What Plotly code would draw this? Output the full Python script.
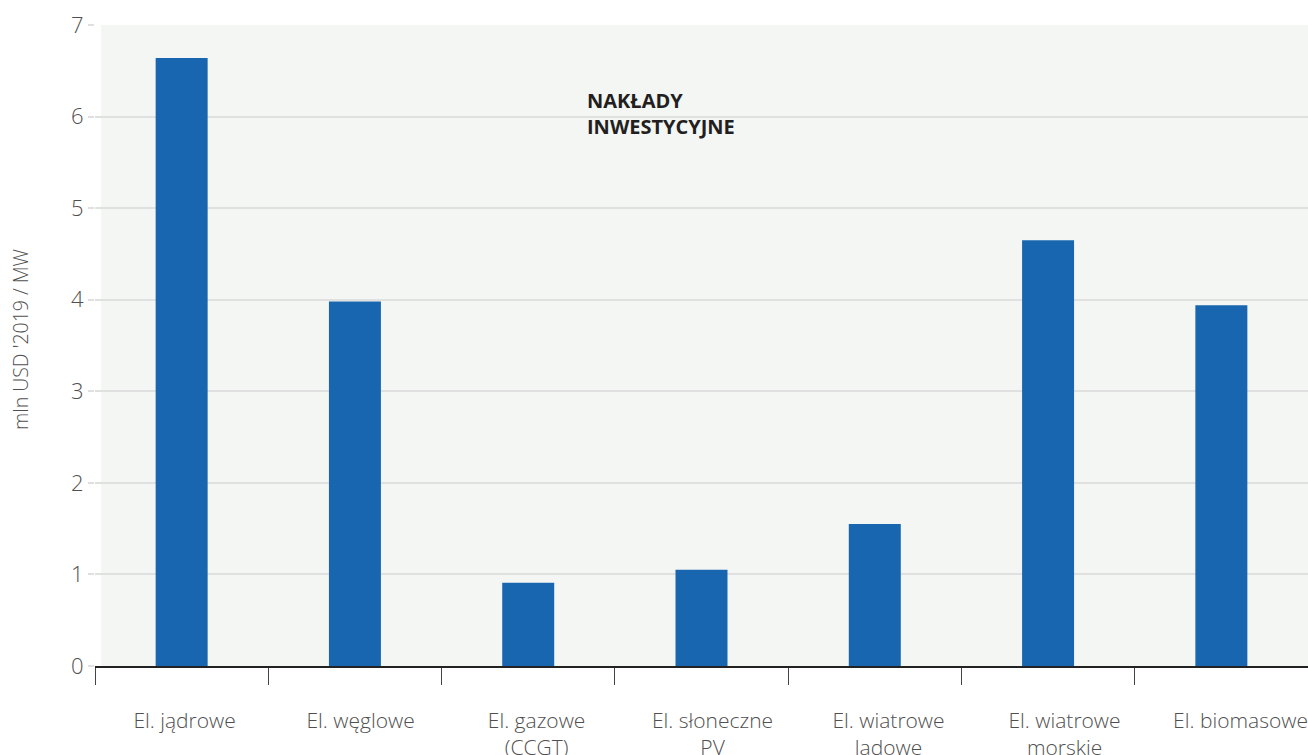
import plotly.graph_objects as go

categories = ["El. jądrowe", "El. węglowe", "El. gazowe<br>(CCGT)", "El. słoneczne<br>PV",
              "El. wiatrowe<br>lądowe", "El. wiatrowe<br>morskie", "El. biomasowe"]
values = [6.64, 3.98, 0.91, 1.05, 1.55, 4.65, 3.94]
y_ticks = [0, 1, 2, 3, 4, 5, 6, 7]

W, H = 1308, 755
L, R, T, B = 95, 0, 25, 89
pw = W - L - R
ph = H - T - B

FONT = "Open Sans"
GRAY = "#505050"

# label positions in the reference are spaced slightly wider than the categories
LABEL_STEP = 1.0156
LABEL_OFFSET = 0.017
label_pos = [LABEL_OFFSET + LABEL_STEP * i for i in range(len(categories))]

fig = go.Figure()
fig.add_trace(go.Bar(x=categories, y=values, marker=dict(color="#1866b0", line_width=0),
                     width=0.3, xaxis="x", yaxis="y"))
# invisible helper trace so the label axis is drawn
fig.add_trace(go.Scatter(x=label_pos, y=[0] * len(label_pos), mode="markers",
                         marker=dict(opacity=0, size=1), hoverinfo="skip",
                         xaxis="x2", yaxis="y"))

fig.update_layout(
    width=W, height=H,
    margin=dict(l=L, r=R, t=T, b=B, autoexpand=False),
    paper_bgcolor="white",
    plot_bgcolor="#f4f6f4",
    showlegend=False,
    font=dict(family=FONT, color=GRAY, size=21, weight=300),
    xaxis=dict(
        type="category",
        showline=True, linecolor="#222222", linewidth=1.5,
        ticks="outside", tickson="boundaries", ticklen=17, tickwidth=1.2, tickcolor="#444444",
        showticklabels=False,
        showgrid=False, automargin=False,
        range=[-0.5, 6.5],
    ),
    xaxis2=dict(
        overlaying="x", anchor="y", side="bottom", type="linear",
        range=[-0.5, 6.5], tickvals=label_pos, ticktext=categories,
        ticks="", showgrid=False, zeroline=False, showline=False,
        ticklabelstandoff=40, automargin=False,
        tickfont=dict(family=FONT, size=21, color=GRAY, weight=300),
    ),
    yaxis=dict(
        range=[0, 7], tickvals=y_ticks, ticktext=[str(v) for v in y_ticks],
        showgrid=True, gridcolor="#e0e0e0", gridwidth=1.5,
        ticks="outside", ticklen=6, tickcolor="#e0e0e0", tickwidth=1.5,
        tickfont=dict(family=FONT, size=22, color=GRAY, weight=300),
        zeroline=False, showline=False, automargin=False,
    ),
)
# white strip at left edge of plot background
fig.add_shape(type="rect", xref="paper", yref="paper", x0=0, x1=6 / pw, y0=0, y1=1,
              fillcolor="white", line_width=0, layer="below")
fig.add_annotation(
    text="mln USD '2019 / MW", xref="paper", yref="paper",
    x=-(95 - 20) / pw, y=1 - (340 - 25) / ph, xanchor="center", yanchor="middle",
    textangle=-90, showarrow=False,
    font=dict(family=FONT, size=19.5, color=GRAY, weight=300),
)
fig.add_annotation(
    text="<b>NAKŁADY<br>INWESTYCYJNE</b>", xref="paper", yref="paper",
    x=(585 - 95) / pw, y=1 - (85 - 25) / ph, xanchor="left", yanchor="top",
    align="left", showarrow=False,
    font=dict(family=FONT, size=20, color="#231f20"),
)

fig.write_html(
    "out.html",
    config={"displayModeBar": False},
    post_script="document.body.style.margin='0';document.body.style.overflow='hidden';",
)
